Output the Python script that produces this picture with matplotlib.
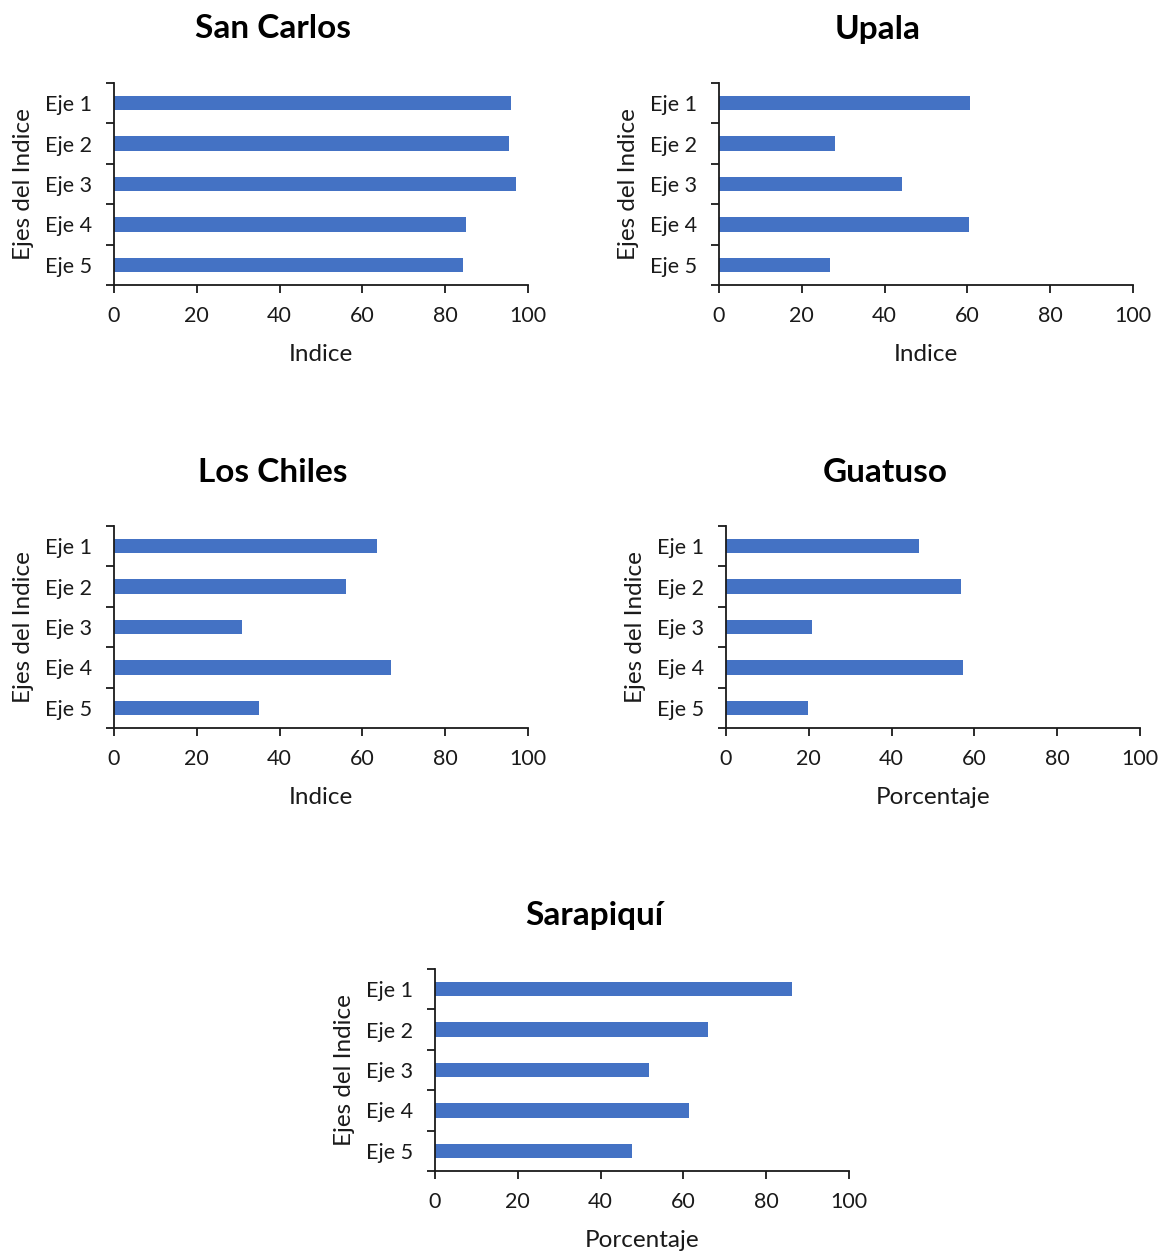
import matplotlib
matplotlib.use("Agg")
import matplotlib.pyplot as plt

plt.rcParams['font.family'] = ['Lato', 'DejaVu Sans']

categories = ["Eje 1", "Eje 2", "Eje 3", "Eje 4", "Eje 5"]
x_ticks = [0, 20, 40, 60, 80, 100]

regions = ["San Carlos", "Upala", "Los Chiles", "Guatuso", "Sarapiquí"]
san_carlos = [95.9, 95.3, 97.1, 85.0, 84.3]
upala = [60.7, 28.1, 44.2, 60.5, 26.9]
los_chiles = [63.6, 56.0, 31.0, 66.9, 35.0]
guatuso = [46.7, 56.7, 20.8, 57.3, 19.9]
sarapiqui = [86.3, 65.9, 51.8, 61.4, 47.6]
x_labels = ["Indice", "Indice", "Indice", "Porcentaje", "Porcentaje"]
y_label = "Ejes del Indice"

W, H = 1161, 1252
fig = plt.figure(figsize=(W / 100, H / 100), dpi=100)

BAR = "#4472C4"
INK = "#1a1a1a"

# panel boxes in pixels: (left, top, right, bottom), title centre x, y
panels = [
    ((114, 83, 528, 285), 273, 29),
    ((719, 83, 1133, 285), 878, 29),
    ((114, 526, 528, 728), 273, 472),
    ((726, 526, 1140, 728), 885, 472),
    ((435, 969, 849, 1171), 594, 915),
]
series = [san_carlos, upala, los_chiles, guatuso, sarapiqui]

for (box, tx, ty), values, title, xl in zip(panels, series, regions, x_labels):
    l, t, r, b = box
    ax = fig.add_axes([l / W, 1 - b / H, (r - l) / W, (b - t) / H])
    ypos = list(range(len(categories)))
    ax.barh(ypos, values, height=0.36, color=BAR)
    ax.set_xlim(0, 100)
    ax.set_ylim(len(categories) - 0.5, -0.5)
    ax.set_xticks(x_ticks)
    ax.set_xticklabels([str(v) for v in x_ticks])
    ax.set_yticks([i - 0.5 for i in range(len(categories) + 1)])
    ax.set_yticklabels([])
    ax.set_yticks(ypos, minor=True)
    ax.set_yticklabels(categories, minor=True)
    ax.tick_params(axis='y', which='major', length=6, width=1.3, color=INK, direction='out')
    ax.tick_params(axis='y', which='minor', length=0, pad=16, labelsize=15.5, labelcolor=INK)
    ax.tick_params(axis='x', which='major', length=6, width=1.3, color=INK,
                   direction='out', pad=9, labelsize=15.5, labelcolor=INK)
    for side in ("top", "right"):
        ax.spines[side].set_visible(False)
    for side in ("left", "bottom"):
        ax.spines[side].set_color(INK)
        ax.spines[side].set_linewidth(1.3)
    ax.set_xlabel(xl, fontsize=17.5, color=INK, labelpad=13)
    ax.set_ylabel(y_label, fontsize=17.5, color=INK, labelpad=8)
    fig.text(tx / W, 1 - ty / H, title, fontsize=24, fontweight='bold',
             ha='center', va='center', color='black')

fig.savefig("out.png", dpi=100)
